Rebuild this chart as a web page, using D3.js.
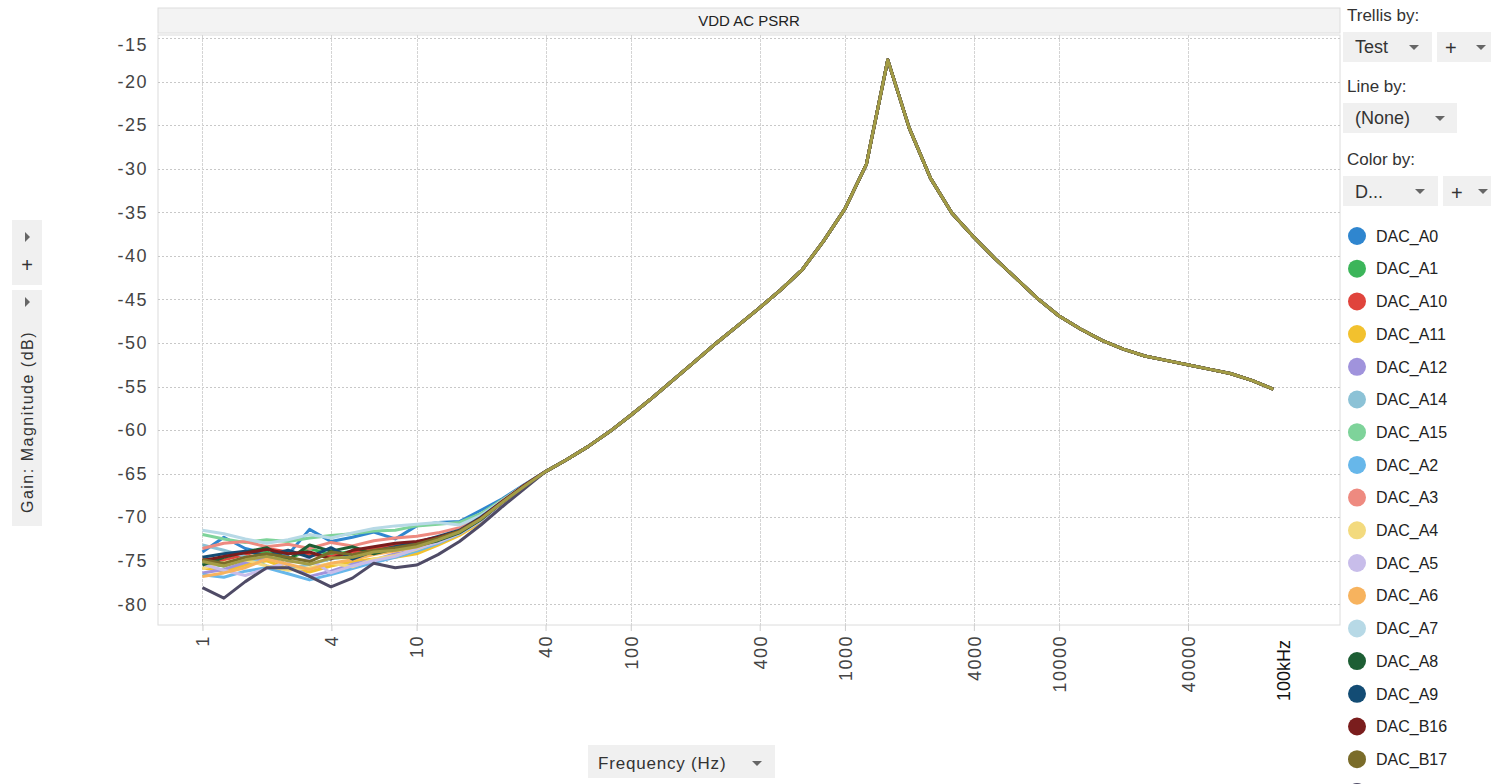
<!DOCTYPE html>
<html>
<head>
<meta charset="utf-8">
<script src="https://cdn.jsdelivr.net/npm/d3@7"></script>
<style>
  body { margin: 0; background: #fff; overflow: hidden; }
  text { font-family: "Liberation Sans", Arial, sans-serif; }
</style>
</head>
<body>
<div id="chart"></div>
<script>
// frequency points (Hz), 10 per decade
var freqs = [1, 1.259, 1.585, 1.995, 2.512, 3.162, 3.981, 5.012, 6.310, 7.943,
  10, 12.59, 15.85, 19.95, 25.12, 31.62, 39.81, 50.12, 63.10, 79.43,
  100, 125.9, 158.5, 199.5, 251.2, 316.2, 398.1, 501.2, 631.0, 794.3,
  1000, 1259, 1585, 1995, 2512, 3162, 3981, 5012, 6310, 7943,
  10000, 12589, 15849, 19953, 25119, 31623, 39811, 50119, 63096, 79433, 100000];

// shared part of the curve from ~40Hz upward (all DACs sit on top of each other here)
var commonGain = [-64.8, -63.4, -61.9, -60.2, -58.3, -56.3, -54.2, -52.1, -50.0, -48.0,
  -46.0, -43.9, -41.6, -38.3, -34.6, -29.5, -17.5, -25.3, -31.1, -35.1,
  -37.8, -40.3, -42.6, -44.9, -46.9, -48.4, -49.7, -50.7, -51.5, -52.0,
  -52.5, -53.0, -53.5, -54.3, -55.3];

// noisy low frequency part, 1Hz .. 31.6Hz, one row per DAC
var dacNames = ["DAC_A0", "DAC_A1", "DAC_A10", "DAC_A11", "DAC_A12", "DAC_A14", "DAC_A15",
  "DAC_A2", "DAC_A3", "DAC_A4", "DAC_A5", "DAC_A6", "DAC_A7", "DAC_A8", "DAC_A9",
  "DAC_B16", "DAC_B17", "DAC_B18", "DAC_B19"];

var dacColors = ["#2f86cf", "#3cb55a", "#e0443c", "#f2c12e", "#a093dc", "#8cc2d6", "#7ed39a",
  "#67b7ea", "#ee8a80", "#f3da7e", "#c8bdea", "#f7b35e", "#b7d9e6", "#1d5e34", "#134c74",
  "#7a1d1d", "#7a6c2a", "#4f4b66", "#a39c45"];

var lowGain = [
  [-74.0, -72.3, -73.6, -74.2, -74.3, -71.4, -72.8, -72.3, -71.7, -72.5, -71.0, -70.6, -70.5, -69.2, -67.9, -66.3],
  [-75.2, -75.6, -74.8, -74.0, -74.9, -73.6, -74.3, -73.9, -73.5, -73.8, -73.4, -72.6, -71.6, -70.3, -68.5, -66.6],
  [-74.8, -74.9, -74.3, -73.6, -74.0, -74.3, -74.5, -74.0, -73.6, -73.2, -73.1, -72.5, -71.8, -70.2, -68.2, -66.4],
  [-75.8, -76.2, -75.5, -75.0, -75.9, -76.3, -75.6, -75.1, -74.8, -74.6, -74.2, -73.2, -72.1, -70.6, -68.6, -66.7],
  [-76.4, -76.0, -75.2, -74.6, -75.5, -76.8, -76.2, -75.4, -74.9, -74.2, -73.8, -72.9, -71.9, -70.4, -68.5, -66.6],
  [-73.2, -73.8, -74.5, -75.6, -76.0, -75.4, -74.8, -74.4, -74.1, -73.7, -73.3, -72.7, -71.7, -70.2, -68.3, -66.5],
  [-72.0, -72.5, -72.9, -72.6, -72.8, -72.4, -72.1, -71.9, -71.6, -71.5, -71.0, -70.8, -70.6, -69.6, -68.0, -66.4],
  [-76.6, -76.9, -76.2, -75.8, -76.5, -77.2, -76.6, -75.9, -75.2, -74.6, -73.9, -73.0, -71.9, -70.4, -68.4, -66.5],
  [-73.6, -73.0, -72.8, -73.4, -73.1, -73.6, -72.9, -73.3, -72.7, -72.4, -72.2, -71.8, -71.2, -69.9, -68.1, -66.4],
  [-75.9, -75.2, -74.9, -75.6, -76.1, -75.8, -75.3, -75.7, -74.8, -74.4, -73.7, -72.8, -71.8, -70.3, -68.4, -66.6],
  [-75.4, -76.1, -76.7, -75.9, -75.2, -74.8, -76.4, -75.6, -75.0, -74.5, -73.6, -72.9, -71.9, -70.4, -68.4, -66.5],
  [-76.8, -76.4, -75.8, -74.8, -75.4, -76.0, -75.3, -74.9, -74.3, -73.9, -73.4, -72.6, -71.7, -70.2, -68.3, -66.5],
  [-71.5, -71.9, -72.5, -73.0, -72.6, -72.0, -72.4, -71.8, -71.3, -71.0, -70.8, -70.6, -70.9, -69.8, -68.1, -66.4],
  [-75.5, -74.6, -74.0, -73.5, -74.9, -73.2, -73.9, -73.4, -74.2, -73.6, -73.3, -72.7, -71.8, -70.3, -68.3, -66.5],
  [-74.6, -74.2, -73.9, -74.4, -73.8, -74.6, -73.5, -74.8, -73.9, -73.4, -72.9, -72.2, -71.5, -70.0, -68.2, -66.4],
  [-75.0, -74.5, -74.1, -73.7, -74.2, -74.0, -74.8, -73.8, -73.4, -73.0, -72.8, -72.3, -71.6, -70.1, -68.2, -66.4],
  [-74.9, -75.3, -74.6, -74.2, -74.6, -75.1, -74.0, -74.3, -73.8, -73.5, -73.1, -72.4, -71.6, -70.2, -68.3, -66.5],
  [-78.1, -79.3, -77.4, -75.8, -75.8, -76.8, -78.0, -77.0, -75.3, -75.8, -75.5, -74.3, -72.8, -70.9, -68.8, -66.8],
  [-75.1, -75.6, -74.9, -74.5, -75.0, -75.4, -74.7, -74.6, -74.0, -73.8, -73.4, -72.6, -71.7, -70.2, -68.3, -66.5]
];

var yTicks = [-15, -20, -25, -30, -35, -40, -45, -50, -55, -60, -65, -70, -75, -80];
var xTicks = [1, 4, 10, 40, 100, 400, 1000, 4000, 10000, 40000];

width = 1491;
height = 784;

// plot area
var plotL = 158, plotR = 1340, plotT = 35, plotB = 625;

x = d3.scaleLog().domain([0.62, 205000]).range([plotL, plotR]);
y = d3.scaleLinear().domain([-14.64, -82.38]).range([plotT, plotB]);

const svg = d3.select("#chart").append("svg")
  .attr("width", width)
  .attr("height", height);

svg.append("rect").attr("width", width).attr("height", height).attr("fill", "#fff");

// title strip
svg.append("rect")
  .attr("x", plotL).attr("y", 8).attr("width", plotR - plotL).attr("height", 25)
  .attr("fill", "#f3f3f3").attr("stroke", "#dddddd");
svg.append("text")
  .attr("x", (plotL + plotR) / 2).attr("y", 26)
  .attr("text-anchor", "middle").attr("font-size", "15px").attr("fill", "#222")
  .text("VDD AC PSRR");

// frame
svg.append("rect")
  .attr("x", plotL).attr("y", plotT).attr("width", plotR - plotL).attr("height", plotB - plotT)
  .attr("fill", "none").attr("stroke", "#dcdcdc");

// grid
svg.append("g").selectAll("line").data(yTicks).enter().append("line")
  .attr("x1", plotL).attr("x2", plotR)
  .attr("y1", d => Math.round(y(d)) + 0.5).attr("y2", d => Math.round(y(d)) + 0.5)
  .attr("stroke", "#c8c8c8").attr("stroke-dasharray", "2,2");
svg.append("g").selectAll("line").data(xTicks).enter().append("line")
  .attr("y1", plotT).attr("y2", plotB)
  .attr("x1", d => Math.round(x(d)) + 0.5).attr("x2", d => Math.round(x(d)) + 0.5)
  .attr("stroke", "#d4d4d4").attr("stroke-dasharray", "3,1");

// y axis labels
const yAxis = svg.append("g")
  .attr("transform", "translate(" + (plotL - 10) + ",0)")
  .call(d3.axisLeft(y).tickValues(yTicks).tickFormat(d => String(d)).tickSize(0).tickPadding(0));
yAxis.select(".domain").remove();
yAxis.selectAll("text").attr("font-size", "18px").attr("fill", "#444")
  .attr("letter-spacing", "1.5px")
  .attr("font-family", "Liberation Sans, Arial, sans-serif");
// top label sits a bit lower, it is pushed inside the frame
yAxis.selectAll(".tick").filter(d => d == -15).select("text").attr("y", 7);

// x axis labels, rotated
const xAxis = svg.append("g")
  .attr("transform", "translate(0," + plotB + ")")
  .call(d3.axisBottom(x).tickValues(xTicks).tickFormat(d => String(d)).tickSize(6).tickPadding(0));
xAxis.select(".domain").remove();
xAxis.selectAll("line").attr("stroke", "#cccccc");
xAxis.selectAll("text")
  .attr("font-size", "18px").attr("fill", "#444")
  .attr("letter-spacing", "1.5px")
  .attr("font-family", "Liberation Sans, Arial, sans-serif")
  .attr("transform", "rotate(-90)")
  .attr("text-anchor", "end")
  .attr("x", -10).attr("y", 0).attr("dy", "0.35em");
svg.append("text")
  .attr("transform", "translate(" + (x(100000) + 10) + "," + (plotB + 15) + ") rotate(-90)")
  .attr("text-anchor", "end").attr("dy", "0.35em")
  .attr("font-size", "18px").attr("fill", "#111")
  .text("100kHz");

// lines
line = d3.line()
  .x(d => x(d[0]))
  .y(d => y(d[1]));

var series = dacNames.map(function(name, i) {
  var gains = lowGain[i].concat(commonGain);
  return { name: name, color: dacColors[i], points: freqs.map((f, j) => [f, gains[j]]) };
});

svg.append("g").selectAll("path").data(series).enter().append("path")
  .attr("d", d => line(d.points))
  .attr("fill", "none")
  .attr("stroke", d => d.color)
  .attr("stroke-width", 3)
  .attr("stroke-linejoin", "round");

// little dropdown arrows used by the controls
function arrowDown(g, cx, cy) {
  g.append("path").attr("d", "M" + (cx - 5) + "," + (cy - 2) + "L" + (cx + 5) + "," + (cy - 2) + "L" + cx + "," + (cy + 3) + "Z")
    .attr("fill", "#666");
}
function arrowRight(g, cx, cy) {
  g.append("path").attr("d", "M" + (cx - 2) + "," + (cy - 5) + "L" + (cx + 3) + "," + cy + "L" + (cx - 2) + "," + (cy + 5) + "Z")
    .attr("fill", "#666");
}
function box(g, bx, by, bw, bh) {
  g.append("rect").attr("x", bx).attr("y", by).attr("width", bw).attr("height", bh).attr("fill", "#f0f0f0");
}

// left side controls
const lc = svg.append("g");
box(lc, 12, 220, 30, 65);
arrowRight(lc, 27, 237);
lc.append("text").attr("x", 27).attr("y", 272).attr("text-anchor", "middle").attr("font-size", "20px").attr("fill", "#333").text("+");
box(lc, 12, 290, 30, 236);
arrowRight(lc, 27, 302);
lc.append("text")
  .attr("transform", "translate(33,422) rotate(-90)")
  .attr("text-anchor", "middle").attr("font-size", "16px").attr("fill", "#333")
  .attr("letter-spacing", "1.5px")
  .text("Gain: Magnitude (dB)");

// bottom axis selector
const bc = svg.append("g");
box(bc, 588, 745, 187, 33);
bc.append("text").attr("x", 598).attr("y", 769).attr("font-size", "17px").attr("fill", "#333")
  .attr("letter-spacing", "0.8px").text("Frequency (Hz)");
arrowDown(bc, 757, 763);

// right side panel
const rc = svg.append("g");
rc.append("text").attr("x", 1347).attr("y", 21).attr("font-size", "17px").attr("fill", "#333").text("Trellis by:");
box(rc, 1343, 32, 89, 30);
rc.append("text").attr("x", 1355).attr("y", 53).attr("font-size", "18px").attr("fill", "#333").text("Test");
arrowDown(rc, 1414, 47);
box(rc, 1437, 32, 60, 30);
rc.append("text").attr("x", 1445).attr("y", 55).attr("font-size", "20px").attr("fill", "#333").text("+");
arrowDown(rc, 1481, 47);

rc.append("text").attr("x", 1347).attr("y", 92).attr("font-size", "17px").attr("fill", "#333").text("Line by:");
box(rc, 1343, 103, 114, 30);
rc.append("text").attr("x", 1355).attr("y", 124).attr("font-size", "18px").attr("fill", "#333").text("(None)");
arrowDown(rc, 1440, 118);

rc.append("text").attr("x", 1347).attr("y", 165).attr("font-size", "17px").attr("fill", "#333").text("Color by:");
box(rc, 1343, 176, 95, 30);
rc.append("text").attr("x", 1355).attr("y", 198).attr("font-size", "18px").attr("fill", "#333").text("D...");
arrowDown(rc, 1420, 191);
box(rc, 1443, 176, 55, 30);
rc.append("text").attr("x", 1451).attr("y", 200).attr("font-size", "20px").attr("fill", "#333").text("+");
arrowDown(rc, 1483, 191);

// legend (runs past the bottom of the page, like the original)
legendY = d3.scalePoint().domain(dacNames).range([236, 236 + 32.7 * (dacNames.length - 1)]);
const lg = svg.append("g").selectAll("g").data(series).enter().append("g")
  .attr("transform", d => "translate(1357," + legendY(d.name) + ")");
lg.append("circle").attr("r", 9).attr("fill", d => d.color);
lg.append("text").attr("x", 19).attr("dy", "0.36em").attr("font-size", "16px").attr("fill", "#222")
  .text(d => d.name);
</script>
</body>
</html>
